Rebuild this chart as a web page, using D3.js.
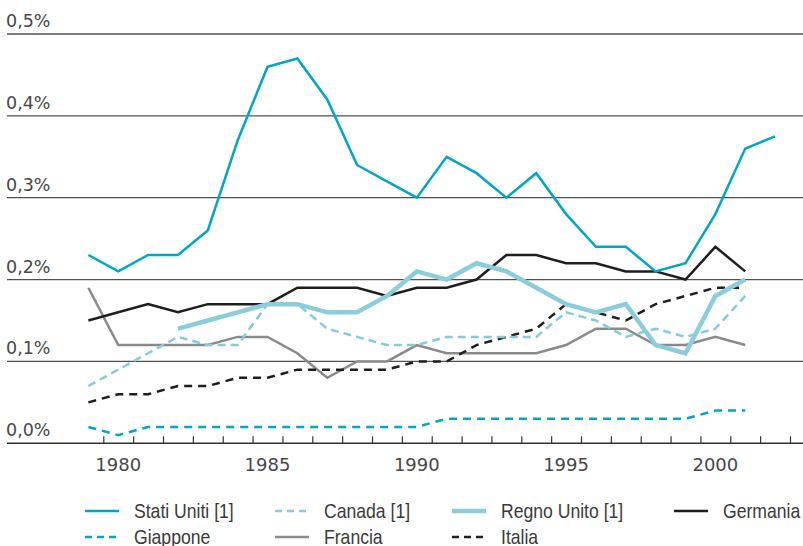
<!DOCTYPE html>
<html>

<head>
  <title>quota del pil</title>
  <style>
    body {
      margin: 0;
      background: #ffffff;
    }

    text.y-label {
      font: 17.5px 'DejaVu Sans', sans-serif;
      fill: #474747;
    }

    text.x-label {
      font: 18px 'DejaVu Sans', sans-serif;
      fill: #474747;
    }

    text.legend-label {
      font: 20px 'Liberation Sans', Arial, sans-serif;
      fill: #3a3a3a;
    }
  </style>
</head>

<body>
  <script type="text/javascript" src="https://cdn.jsdelivr.net/npm/d3@7/dist/d3.min.js"></script>
</body>

<script>
  var years = [1979, 1980, 1981, 1982, 1983, 1984, 1985, 1986, 1987, 1988, 1989, 1990,
    1991, 1992, 1993, 1994, 1995, 1996, 1997, 1998, 1999, 2000, 2001, 2002];

  var statiUniti = [0.23, 0.21, 0.23, 0.23, 0.26, 0.37, 0.46, 0.47, 0.42, 0.34, 0.32, 0.30,
    0.35, 0.33, 0.30, 0.33, 0.28, 0.24, 0.24, 0.21, 0.22, 0.28, 0.36, 0.375];
  var canada = [0.07, 0.09, 0.11, 0.13, 0.12, 0.12, 0.17, 0.17, 0.14, 0.13, 0.12, 0.12,
    0.13, 0.13, 0.13, 0.13, 0.16, 0.15, 0.13, 0.14, 0.13, 0.14, 0.18, null];
  var regnoUnito = [null, null, null, 0.14, 0.15, 0.16, 0.17, 0.17, 0.16, 0.16, 0.18, 0.21,
    0.20, 0.22, 0.21, 0.19, 0.17, 0.16, 0.17, 0.12, 0.11, 0.18, 0.20, null];
  var germania = [0.15, 0.16, 0.17, 0.16, 0.17, 0.17, 0.17, 0.19, 0.19, 0.19, 0.18, 0.19,
    0.19, 0.20, 0.23, 0.23, 0.22, 0.22, 0.21, 0.21, 0.20, 0.24, 0.21, null];
  var giappone = [0.02, 0.01, 0.02, 0.02, 0.02, 0.02, 0.02, 0.02, 0.02, 0.02, 0.02, 0.02,
    0.03, 0.03, 0.03, 0.03, 0.03, 0.03, 0.03, 0.03, 0.03, 0.04, 0.04, null];
  var francia = [0.19, 0.12, 0.12, 0.12, 0.12, 0.13, 0.13, 0.11, 0.08, 0.10, 0.10, 0.12,
    0.11, 0.11, 0.11, 0.11, 0.12, 0.14, 0.14, 0.12, 0.12, 0.13, 0.12, null];
  var italia = [0.05, 0.06, 0.06, 0.07, 0.07, 0.08, 0.08, 0.09, 0.09, 0.09, 0.09, 0.10,
    0.10, 0.12, 0.13, 0.14, 0.17, 0.16, 0.15, 0.17, 0.18, 0.19, 0.19, null];

  var yTicks = [0, 0.1, 0.2, 0.3, 0.4, 0.5];
  var yTickLabels = ['0,0%', '0,1%', '0,2%', '0,3%', '0,4%', '0,5%'];
  var xLabels = [1980, 1985, 1990, 1995, 2000];

  // series drawn from back to front; legend order kept separately
  var series = [
    { name: 'Francia', values: francia, color: '#8a8a8a', width: 2.5, dash: null },
    { name: 'Italia', values: italia, color: '#1e1e1e', width: 2.5, dash: '8,6' },
    { name: 'Giappone', values: giappone, color: '#00a6c4', width: 2.5, dash: '8,6' },
    { name: 'Canada [1]', values: canada, color: '#86cbdb', width: 2.5, dash: '8,5' },
    { name: 'Germania', values: germania, color: '#1e1e1e', width: 2.5, dash: null },
    { name: 'Regno Unito [1]', values: regnoUnito, color: '#8ccddc', width: 4.5, dash: null },
    { name: 'Stati Uniti [1]', values: statiUniti, color: '#00a6c4', width: 2.5, dash: null }
  ];
  var legendOrder = ['Stati Uniti [1]', 'Canada [1]', 'Regno Unito [1]', 'Germania',
    'Giappone', 'Francia', 'Italia'];

  var width = 803,
    height = 546;

  var x = d3.scaleLinear()
    .domain([1979.5, 2002.5])
    .range([103.3, 790]);

  var y = d3.scaleLinear()
    .domain([0, 0.5])
    .range([443.3, 34]);

  var chart = d3.select('body')
    .append('svg:svg')
    .attr('width', width)
    .attr('height', height)
    .attr('class', 'chart');

  // GRID
  var grid = chart.append('g').attr('class', 'grid');

  grid.selectAll('line')
    .data(yTicks.slice(1))
    .enter()
    .append('line')
    .attr('x1', 7)
    .attr('x2', width)
    .attr('y1', function(d) { return y(d); })
    .attr('y2', function(d) { return y(d); })
    .attr('stroke', '#505050')
    .attr('stroke-width', 1.3);

  grid.selectAll('text')
    .data(yTicks)
    .enter()
    .append('text')
    .attr('class', 'y-label')
    .attr('x', 6)
    .attr('y', function(d) { return y(d) - 7; })
    .text(function(d, i) { return yTickLabels[i]; });

  // X AXIS
  var xAxis = d3.axisBottom(x)
    .tickValues(d3.range(1979.5, 2003, 1))
    .tickSize(-7)
    .tickFormat('');

  var axisG = chart.append('g')
    .attr('class', 'x-axis')
    .attr('transform', 'translate(0,' + y(0) + ')')
    .call(xAxis);
  axisG.select('.domain').remove();
  axisG.selectAll('.tick line')
    .attr('stroke', '#333333')
    .attr('stroke-width', 1.2);

  chart.append('line')
    .attr('x1', 7)
    .attr('x2', width)
    .attr('y1', y(0))
    .attr('y2', y(0))
    .attr('stroke', '#333333')
    .attr('stroke-width', 1.6);

  chart.append('g')
    .selectAll('text')
    .data(xLabels)
    .enter()
    .append('text')
    .attr('class', 'x-label')
    .attr('x', function(d) { return x(d); })
    .attr('y', 471)
    .attr('text-anchor', 'middle')
    .text(function(d) { return d; });

  // LINES
  var line = d3.line()
    .defined(function(d) { return d.v !== null; })
    .x(function(d) { return x(d.year); })
    .y(function(d) { return y(d.v); });

  chart.append('g')
    .attr('class', 'lines')
    .selectAll('path')
    .data(series)
    .enter()
    .append('path')
    .attr('fill', 'none')
    .attr('stroke', function(d) { return d.color; })
    .attr('stroke-width', function(d) { return d.width; })
    .attr('stroke-dasharray', function(d) { return d.dash; })
    .attr('d', function(d) {
      return line(years.map(function(yr, i) {
        return { year: yr, v: d.values[i] };
      }));
    });

  // LEGEND
  var legendCols = [85, 275, 452, 674];
  var legendRows = [511, 537];

  var legendItems = chart.append('g')
    .attr('class', 'legend')
    .selectAll('g')
    .data(legendOrder.map(function(n) {
      return series.filter(function(s) { return s.name === n; })[0];
    }))
    .enter()
    .append('g')
    .attr('transform', function(d, i) {
      return 'translate(' + legendCols[i % 4] + ',' + legendRows[Math.floor(i / 4)] + ')';
    });

  legendItems.append('line')
    .attr('x1', 0)
    .attr('x2', 34)
    .attr('y1', 0)
    .attr('y2', 0)
    .attr('stroke', function(d) { return d.color; })
    .attr('stroke-width', function(d) { return d.width; })
    .attr('stroke-dasharray', function(d) { return d.dash ? '7,5' : null; });

  // condensed look: squeeze the label horizontally
  legendItems.append('text')
    .attr('class', 'legend-label')
    .attr('transform', 'translate(49,0) scale(0.88,1)')
    .attr('x', 0)
    .attr('y', 0)
    .attr('dy', '0.36em')
    .text(function(d) { return d.name; });
</script>

</html>
